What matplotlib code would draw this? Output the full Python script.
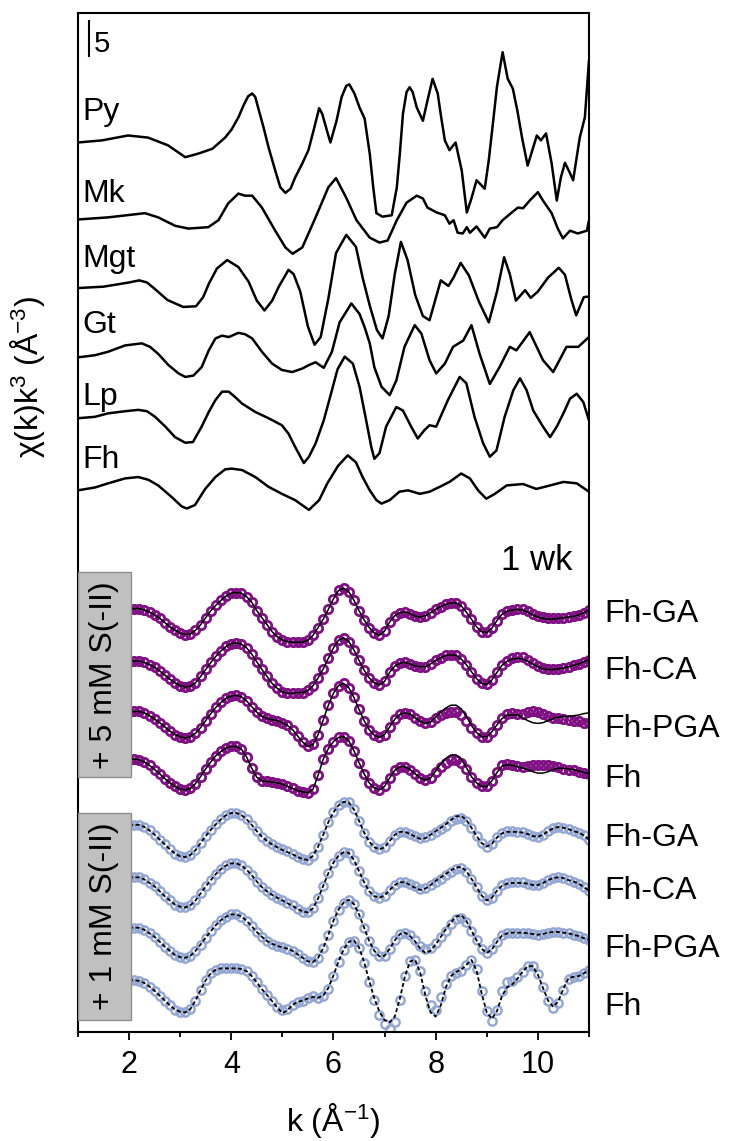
import numpy as np
import matplotlib.pyplot as plt
from matplotlib.patches import Rectangle

plt.rcParams['font.family'] = ['Liberation Sans', 'DejaVu Sans']
plt.rcParams['mathtext.fontset'] = 'custom'
plt.rcParams['mathtext.rm'] = 'Liberation Sans'
plt.rcParams['mathtext.it'] = 'Liberation Sans:italic'
plt.rcParams['mathtext.default'] = 'regular'

# ---- reference spectra, chi(k)k^3 ----
py_k = [1.0, 1.47, 1.98, 2.37, 2.76, 3.1, 3.35, 3.63, 3.88, 4.01, 4.14, 4.24, 4.33, 4.41, 4.47,
        4.54, 4.63, 4.73, 4.86, 4.96, 5.06, 5.16, 5.25, 5.39, 5.51, 5.61, 5.72, 5.78, 5.88,
        5.94, 6.06, 6.16, 6.25, 6.31, 6.41, 6.51, 6.61, 6.71, 6.78, 6.84, 6.96, 7.14, 7.24,
        7.30, 7.36, 7.43, 7.49, 7.55, 7.63, 7.75, 7.84, 7.94, 8.04, 8.11, 8.18, 8.27, 8.39,
        8.51, 8.61, 8.7, 8.8, 8.96, 9.04, 9.12, 9.2, 9.31, 9.41, 9.51, 9.6, 9.69, 9.8, 9.98,
        10.06, 10.16, 10.27, 10.37, 10.45, 10.53, 10.63, 10.69, 10.82, 10.92, 11.0]
py_y = [0, 0.3, 1.0, 0.7, -0.4, -2.1, -1.6, -0.9, 0.7, 1.9, 3.6, 5.3, 6.6, 7.0, 6.5,
        4.6, 2.2, -0.7, -4.0, -6.4, -7.2, -6.6, -5.0, -3.0, -1.1, 1.7, 4.9, 4.1, 1.5,
        0.0, 3.1, 6.5, 8.1, 8.3, 7.0, 5.0, 3.4, -1.6, -6.5, -10.1, -10.6, -10.4, -6.4,
        -1.5, 4.1, 7.2, 7.9, 7.2, 5.0, 3.1, 6.0, 9.1, 7.0, 3.5, 0.3, -1.1, 0.0,
        -4.0, -10.0, -8.0, -5.4, -6.6, -2.5, 2.7, 8.0, 12.9, 9.1, 7.7, 4.5, 0.7, -3.3, 1.0,
        0.3, 1.3, -3.0, -8.3, -5.0, -2.9, -4.4, -5.4, 0.7, 3.6, 11.7]

mk_k = [1.0, 1.59, 2.31, 2.57, 2.9, 3.16, 3.55, 3.75, 3.94, 4.14, 4.27, 4.41, 4.6, 4.86, 5.06,
        5.2, 5.39, 5.65, 5.9, 6.05, 6.25, 6.45, 6.71, 6.9, 7.06, 7.24, 7.43, 7.63, 7.75, 7.84,
        8.02, 8.18, 8.27, 8.35, 8.43, 8.53, 8.61, 8.67, 8.8, 8.96, 9.06, 9.2, 9.31, 9.49,
        9.61, 9.71, 9.84, 10.0, 10.1, 10.27, 10.39, 10.49, 10.63, 10.78, 10.96, 11.0]
mk_y = [0, 0.3, 0.9, 0.3, -0.9, -1.3, -1.1, -0.1, 2.3, 3.7, 3.4, 3.4, 1.7, -1.6, -4.0,
        -4.9, -4.0, 0.3, 4.6, 5.9, 3.1, -0.1, -2.6, -3.3, -3.0, -0.1, 2.4, 3.4, 3.0, 1.7,
        1.0, 0.6, -0.6, -0.1, -1.9, -2.0, -1.1, -1.9, -1.0, -2.6, -1.3, -1.1, -0.1, 1.0,
        1.7, 1.6, 2.7, 3.9, 2.7, 0.9, -1.3, -2.7, -1.6, -2.0, -1.6, -0.1]

mgt_k = [1.0, 1.5, 2.0, 2.2, 2.35, 2.5, 2.75, 3.06, 3.31, 3.45, 3.56, 3.72, 3.92, 4.14, 4.34,
         4.5, 4.65, 4.8, 4.93, 5.12, 5.22, 5.35, 5.5, 5.63, 5.75, 5.9, 6.05, 6.25, 6.44, 6.57,
         6.71, 6.85, 6.96, 7.08, 7.2, 7.32, 7.45, 7.6, 7.75, 7.88, 8.0, 8.1, 8.25, 8.35, 8.49,
         8.65, 8.85, 9.04, 9.2, 9.34, 9.45, 9.57, 9.75, 9.86, 10.0, 10.2, 10.41, 10.53, 10.65,
         10.75, 10.9, 11.0]
mgt_y = [0, 0.2, 0.8, 1.1, 0.8, -0.1, -1.7, -2.7, -2.6, -1.3, 0.6, 2.8, 4.0, 3.0, 0.9,
         -1.8, -3.2, -1.8, 0.2, 2.6, 2.0, -0.5, -5.5, -8.1, -7.0, -1.5, 5.0, 7.6, 5.9, 1.5,
         -2.5, -6.0, -7.2, -4.0, 2.0, 6.6, 4.0, -1.0, -4.0, -4.6, -1.5, 1.1, 0.3, 1.5, 3.6,
         1.8, -2.0, -4.9, -0.5, 4.4, 2.0, -1.8, -0.3, -1.4, -0.5, 1.5, 2.9, 1.9, -1.5,
         -3.9, -1.3, -1.2]

gt_k = [1.0, 1.33, 1.59, 1.92, 2.25, 2.41, 2.57, 2.77, 2.97, 3.1, 3.26, 3.42, 3.56, 3.69, 3.82,
        3.95, 4.14, 4.27, 4.41, 4.6, 4.8, 4.99, 5.19, 5.39, 5.52, 5.65, 5.81, 5.97, 6.12, 6.35,
        6.51, 6.61, 6.71, 6.8, 6.94, 7.1, 7.23, 7.39, 7.59, 7.72, 7.88, 8.01, 8.18, 8.34, 8.54,
        8.7, 8.86, 9.06, 9.25, 9.45, 9.58, 9.84, 10.1, 10.3, 10.56, 10.79, 11.0]
gt_y = [0, 0.3, 0.8, 1.7, 2.0, 1.5, 0.5, -1.1, -2.3, -2.8, -2.6, -1.4, 1.0, 2.7, 3.1,
        2.9, 3.5, 3.3, 2.7, 0.8, -0.9, -1.8, -2.1, -1.6, -1.1, -0.7, -1.5, 0.8, 5.0, 7.7,
        6.2, 4.3, 2.0, -1.4, -4.2, -5.4, -3.3, 1.5, 4.6, 3.4, -0.4, -2.3, -0.9, 1.5, 2.4,
        4.6, 0.5, -3.8, -1.4, 1.5, 1.0, 3.6, -0.4, -2.1, 1.5, 1.5, 2.9]

lp_k = [1.0, 1.33, 1.59, 1.92, 2.18, 2.35, 2.51, 2.71, 2.9, 3.1, 3.25, 3.42, 3.56, 3.69, 3.82,
        3.95, 4.08, 4.21, 4.47, 4.73, 4.99, 5.12, 5.25, 5.42, 5.52, 5.65, 5.81, 5.97, 6.08,
        6.22, 6.38, 6.51, 6.64, 6.74, 6.8, 6.9, 7.03, 7.23, 7.36, 7.52, 7.65, 7.78, 7.88,
        8.01, 8.24, 8.47, 8.6, 8.76, 8.93, 9.06, 9.19, 9.35, 9.52, 9.65, 9.78, 9.91, 10.1,
        10.24, 10.37, 10.5, 10.63, 10.76, 10.89, 11.0]
lp_y = [0, 0.2, 0.7, 1.0, 1.2, 1.0, 0.2, -1.2, -2.7, -3.5, -3.4, -1.2, 0.9, 2.6, 3.8,
        3.8, 3.0, 2.1, 0.9, 0.0, -1.0, -2.2, -4.1, -6.4, -5.5, -3.6, -0.3, 4.0, 7.0,
        8.8, 7.8, 4.5, -0.3, -4.1, -5.8, -5.0, -1.2, 1.6, 1.1, -1.2, -2.9, -1.7, -1.0,
        -1.2, 2.6, 5.9, 5.0, 0.2, -3.6, -5.5, -4.6, 0.2, 4.0, 5.7, 4.0, 1.1, -1.2,
        -2.7, -1.2, 0.7, 2.8, 3.5, 2.3, -0.3]

fh_k = [1.0, 1.33, 1.59, 1.92, 2.18, 2.38, 2.57, 2.84, 3.03, 3.13, 3.29, 3.49, 3.69, 3.88, 4.01,
        4.21, 4.47, 4.73, 4.99, 5.25, 5.52, 5.72, 5.88, 6.09, 6.28, 6.44, 6.57, 6.71, 6.84,
        6.94, 7.1, 7.29, 7.46, 7.69, 7.88, 8.08, 8.27, 8.5, 8.67, 8.83, 8.99, 9.16, 9.39,
        9.71, 9.97, 10.24, 10.5, 10.76, 11.0]
fh_y = [0, 0.4, 1.0, 1.7, 1.9, 1.5, 0.7, -1.0, -2.3, -2.6, -2.1, 0.2, 1.9, 3.0, 3.1,
        2.9, 1.9, 0.5, -0.5, -1.4, -2.8, -1.4, 1.0, 3.5, 5.0, 4.0, 1.9, 0.0, -1.4,
        -1.9, -1.4, -0.2, 0.0, -0.5, -0.2, 0.5, 1.2, 2.4, 1.7, 0.0, -1.2, -0.5, 0.7,
        0.9, 0.2, 0.7, 1.2, 1.0, -0.2]

ref_names = ['Py', 'Mk', 'Mgt', 'Gt', 'Lp', 'Fh']
ref_offsets = [127.1, 116.1, 106.3, 96.4, 87.7, 77.4]
ref_label_y = [130.3, 118.6, 109.3, 99.9, 89.6, 80.6]

# ---- 1 wk samples: data (circles) and fits (lines), k = 2.0 ... 11.0 step 0.1 ----
k_s = np.round(np.arange(2.0, 11.05, 0.1), 1)

s5_ga = [0.0, 0.1, 0.1, -0.1, -0.4, -0.8, -1.3, -1.9, -2.5, -3.0,
         -3.4, -3.6, -3.5, -3.0, -2.2, -1.2, -0.2, 0.6, 1.3, 1.9,
         2.3, 2.4, 2.3, 1.8, 1.0, -0.2, -1.2, -2.2, -3.2, -3.9,
         -4.4, -4.6, -4.7, -4.7, -4.7, -4.4, -3.7, -2.6, -1.4, 0.0,
         1.5, 2.7, 3.0, 2.5, 1.3, -0.2, -1.5, -2.6, -3.4, -3.7,
         -3.1, -1.8, -0.9, -0.5, -0.4, -0.6, -1.0, -1.1, -0.9, -0.5,
         0.0, 0.4, 0.7, 0.9, 0.9, 0.5, -0.4, -1.4, -2.5, -3.2,
         -3.3, -2.7, -1.6, -0.7, -0.3, -0.1, 0.1, 0.1, -0.2, -0.6,
         -0.9, -1.1, -1.3, -1.3, -1.3, -1.2, -1.1, -1.0, -0.8, -0.5,
         -0.1]
s5_ga_fit = [0.0, 0.1, 0.1, -0.1, -0.4, -0.8, -1.3, -1.9, -2.5, -3.0,
             -3.4, -3.6, -3.5, -3.0, -2.2, -1.2, -0.2, 0.6, 1.3, 1.9,
             2.3, 2.4, 2.3, 1.8, 1.0, -0.2, -1.2, -2.2, -3.2, -3.9,
             -4.4, -4.6, -4.7, -4.7, -4.7, -4.4, -3.7, -2.6, -1.4, 0.0,
             1.5, 2.7, 3.0, 2.5, 1.3, -0.2, -1.5, -2.6, -3.4, -3.7,
             -3.1, -1.8, -0.9, -0.5, -0.4, -0.6, -1.0, -1.1, -0.9, -0.5,
             0.0, 0.4, 0.7, 0.9, 0.9, 0.5, -0.4, -1.4, -2.5, -3.2,
             -3.3, -2.7, -1.6, -0.7, -0.3, -0.1, 0.0, -0.1, -0.4, -0.8,
             -1.1, -1.3, -1.4, -1.4, -1.3, -1.2, -1.1, -1.0, -0.8, -0.5,
             -0.1]
s5_ca = [0.0, 0.1, 0.1, -0.1, -0.4, -0.8, -1.3, -1.9, -2.5, -3.0,
         -3.4, -3.6, -3.5, -3.0, -2.1, -1.1, -0.1, 0.8, 1.6, 2.2,
         2.6, 2.7, 2.5, 2.0, 1.1, 0.0, -1.1, -2.1, -3.1, -3.8,
         -4.3, -4.5, -4.5, -4.4, -4.4, -4.1, -3.4, -2.3, -1.0, 0.5,
         2.0, 3.1, 3.4, 2.9, 1.7, 0.2, -1.2, -2.3, -3.0, -3.3,
         -2.8, -1.5, -0.6, -0.2, -0.1, -0.3, -0.6, -0.7, -0.7, -0.3,
         0.2, 0.6, 0.9, 1.0, 0.9, 0.4, -0.4, -1.4, -2.4, -3.1,
         -3.2, -2.6, -1.5, -0.5, 0.1, 0.5, 0.7, 0.7, 0.3, -0.2,
         -0.6, -0.9, -1.1, -1.1, -1.0, -0.9, -0.7, -0.5, -0.3, 0.0,
         0.3]
s5_ca_fit = [0.0, 0.1, 0.1, -0.1, -0.4, -0.8, -1.3, -1.9, -2.5, -3.0,
             -3.4, -3.6, -3.5, -3.0, -2.1, -1.1, -0.1, 0.8, 1.6, 2.2,
             2.6, 2.7, 2.5, 2.0, 1.1, 0.0, -1.1, -2.1, -3.1, -3.8,
             -4.3, -4.5, -4.5, -4.4, -4.4, -4.1, -3.4, -2.3, -1.0, 0.5,
             2.0, 3.1, 3.4, 2.9, 1.7, 0.2, -1.2, -2.3, -3.0, -3.3,
             -2.8, -1.5, -0.6, -0.2, -0.1, -0.3, -0.6, -0.7, -0.7, -0.3,
             0.2, 0.6, 0.9, 1.0, 0.9, 0.4, -0.4, -1.4, -2.4, -3.1,
             -3.2, -2.6, -1.5, -0.5, 0.1, 0.4, 0.5, 0.4, 0.1, -0.3,
             -0.7, -1.0, -1.1, -1.1, -1.0, -0.9, -0.7, -0.5, -0.3, 0.0,
             0.3]
s5_pga = [0.0, 0.1, 0.1, -0.1, -0.5, -1.0, -1.5, -2.1, -2.7, -3.2,
          -3.5, -3.7, -3.5, -3.0, -2.2, -1.2, -0.2, 0.7, 1.4, 2.0,
          2.3, 2.4, 2.2, 1.6, 0.8, 0.0, -0.6, -0.9, -1.1, -1.2,
          -1.5, -1.9, -2.5, -3.4, -4.3, -4.9, -4.6, -3.2, -1.1, 1.0,
          2.7, 3.8, 4.1, 3.5, 2.1, 0.4, -1.2, -2.5, -3.3, -3.6,
          -3.2, -2.1, -1.0, -0.3, -0.1, -0.3, -0.8, -1.3, -1.6, -1.4,
          -0.9, -0.4, -0.1, 0.0, 0.0, -0.4, -1.2, -2.2, -3.0, -3.5,
          -3.5, -2.8, -1.8, -0.9, -0.3, -0.1, -0.2, -0.2, 0.0, 0.1,
          0.0, -0.2, -0.5, -0.8, -0.9, -1.0, -1.1, -1.2, -1.3, -1.5,
          -1.6]
s5_pga_fit = [0.0, 0.1, 0.1, -0.1, -0.5, -1.0, -1.5, -2.1, -2.7, -3.2,
              -3.5, -3.7, -3.5, -3.0, -2.2, -1.2, -0.2, 0.7, 1.4, 2.0,
              2.3, 2.4, 2.2, 1.6, 0.8, 0.0, -0.6, -0.9, -1.1, -1.2,
              -1.5, -1.9, -2.5, -3.4, -4.3, -4.9, -4.6, -3.2, -1.1, 1.0,
              2.7, 3.8, 4.1, 3.5, 2.1, 0.4, -1.2, -2.5, -3.3, -3.6,
              -3.2, -2.1, -1.0, -0.3, -0.1, -0.3, -0.8, -1.3, -1.6, -1.4,
              -0.7, 0.0, 0.6, 1.0, 1.0, 0.5, -0.6, -1.9, -2.9, -3.5,
              -3.5, -2.8, -1.8, -0.9, -0.4, -0.4, -0.4, -0.8, -1.2, -1.5,
              -1.6, -1.5, -1.2, -0.9, -0.7, -0.6, -0.6, -0.5, -0.4, -0.2,
              -0.1]
s5_fh = [0.0, 0.1, 0.0, -0.3, -0.8, -1.4, -2.0, -2.7, -3.3, -3.8,
         -4.2, -4.3, -4.1, -3.4, -2.4, -1.3, -0.3, 0.6, 1.2, 1.7,
         1.9, 1.9, 1.5, 0.4, -1.2, -2.5, -3.0, -3.1, -3.2, -3.3,
         -3.5, -3.8, -4.1, -4.4, -4.6, -4.7, -4.2, -2.2, 0.1, 1.6,
         2.6, 3.2, 3.3, 2.7, 1.3, -0.4, -2.0, -3.3, -4.0, -4.3,
         -3.8, -2.6, -1.5, -1.0, -1.0, -1.4, -2.0, -2.6, -2.9, -2.6,
         -1.8, -1.0, -0.4, -0.1, 0.0, -0.4, -1.3, -2.4, -3.3, -3.8,
         -3.8, -3.0, -1.8, -0.8, -0.6, -0.7, -0.9, -1.0, -0.9, -0.8,
         -0.7, -0.7, -0.7, -0.9, -1.1, -1.3, -1.4, -1.5, -1.7, -1.9,
         -2.1]
s5_fh_fit = [0.0, 0.1, 0.0, -0.3, -0.8, -1.4, -2.0, -2.7, -3.3, -3.8,
             -4.2, -4.3, -4.1, -3.4, -2.4, -1.3, -0.3, 0.6, 1.2, 1.7,
             1.9, 1.9, 1.5, 0.4, -1.2, -2.5, -3.0, -3.1, -3.2, -3.3,
             -3.5, -3.8, -4.1, -4.4, -4.6, -4.7, -4.2, -2.2, 0.1, 1.6,
             2.6, 3.2, 3.3, 2.7, 1.3, -0.4, -2.0, -3.3, -4.0, -4.3,
             -3.8, -2.6, -1.5, -1.0, -1.0, -1.4, -2.0, -2.6, -2.9, -2.6,
             -1.6, -0.6, 0.2, 0.7, 0.7, 0.1, -1.1, -2.4, -3.3, -3.8,
             -3.8, -3.0, -1.8, -0.9, -0.7, -0.8, -1.0, -1.2, -1.4, -1.7,
             -1.9, -1.9, -1.7, -1.4, -1.2, -1.2, -1.3, -1.4, -1.6, -1.8,
             -2.0]

s1_ga = [0.0, 0.0, 0.0, -0.3, -0.8, -1.4, -2.1, -2.8, -3.5, -4.1,
         -4.5, -4.6, -4.3, -3.6, -2.6, -1.6, -0.7, 0.1, 0.8, 1.4,
         1.7, 1.7, 1.4, 0.8, 0.0, -0.9, -1.7, -2.3, -2.8, -3.1,
         -3.4, -3.7, -4.1, -4.6, -4.9, -5.0, -4.4, -3.1, -1.4, 0.4,
         1.8, 2.8, 3.3, 3.2, 2.2, 0.6, -1.1, -2.4, -3.2, -3.5,
         -3.2, -2.3, -1.4, -1.0, -1.0, -1.3, -1.6, -1.9, -1.8, -1.4,
         -1.0, -0.6, -0.1, 0.5, 0.9, 1.0, 0.5, -0.5, -1.6, -2.6,
         -3.1, -2.7, -1.8, -1.1, -0.9, -0.9, -1.0, -1.0, -1.3, -1.6,
         -1.7, -1.4, -0.9, -0.5, -0.3, -0.4, -0.6, -0.9, -1.1, -1.5,
         -2.1]
s1_ga_fit = [0.0, 0.0, 0.0, -0.3, -0.8, -1.4, -2.1, -2.8, -3.5, -4.1,
             -4.5, -4.6, -4.3, -3.6, -2.6, -1.6, -0.7, 0.1, 0.8, 1.4,
             1.7, 1.7, 1.4, 0.8, 0.0, -0.9, -1.7, -2.3, -2.8, -3.2,
             -3.6, -3.9, -4.2, -4.6, -4.9, -5.0, -4.4, -3.1, -1.4, 0.4,
             1.8, 2.8, 3.3, 3.2, 2.2, 0.6, -1.1, -2.4, -3.2, -3.5,
             -3.2, -2.3, -1.4, -1.0, -1.0, -1.3, -1.7, -2.0, -1.9, -1.4,
             -0.9, -0.4, 0.1, 0.7, 1.2, 1.3, 0.7, -0.4, -1.6, -2.6,
             -3.1, -2.7, -1.8, -1.2, -1.0, -1.0, -1.0, -1.1, -1.3, -1.6,
             -1.7, -1.4, -0.9, -0.5, -0.3, -0.4, -0.6, -0.9, -1.1, -1.5,
             -2.1]
s1_ca = [0.0, 0.0, 0.0, -0.3, -0.8, -1.3, -2.0, -2.7, -3.3, -3.9,
         -4.2, -4.3, -4.0, -3.3, -2.3, -1.3, -0.4, 0.5, 1.2, 1.7,
         2.0, 2.0, 1.7, 1.1, 0.3, -0.6, -1.4, -2.0, -2.5, -2.9,
         -3.2, -3.6, -4.0, -4.5, -4.9, -5.0, -4.4, -3.0, -1.2, 0.6,
         2.1, 3.1, 3.6, 3.5, 2.5, 0.9, -0.7, -2.0, -2.7, -2.9,
         -2.6, -1.8, -1.1, -0.7, -0.7, -1.0, -1.3, -1.6, -1.5, -1.1,
         -0.6, -0.2, 0.3, 0.8, 1.2, 1.3, 0.8, -0.2, -1.4, -2.6,
         -3.3, -2.9, -1.9, -1.1, -0.8, -0.7, -0.7, -0.7, -0.9, -1.1,
         -1.1, -0.8, -0.4, -0.1, 0.0, -0.1, -0.4, -0.6, -0.9, -1.4,
         -1.9]
s1_ca_fit = [0.0, 0.0, 0.0, -0.3, -0.8, -1.3, -2.0, -2.7, -3.3, -3.9,
             -4.2, -4.3, -4.0, -3.3, -2.3, -1.3, -0.4, 0.5, 1.2, 1.7,
             2.0, 2.0, 1.7, 1.1, 0.3, -0.6, -1.4, -2.0, -2.5, -2.9,
             -3.3, -3.7, -4.1, -4.5, -4.9, -5.0, -4.4, -3.0, -1.2, 0.6,
             2.1, 3.1, 3.6, 3.5, 2.5, 0.9, -0.7, -2.0, -2.7, -2.9,
             -2.6, -1.8, -1.1, -0.7, -0.7, -1.1, -1.5, -1.8, -1.6, -1.1,
             -0.5, 0.0, 0.5, 1.0, 1.4, 1.5, 0.9, -0.2, -1.4, -2.6,
             -3.3, -2.9, -1.9, -1.2, -0.9, -0.8, -0.8, -0.8, -0.9, -1.1,
             -1.1, -0.8, -0.4, -0.1, 0.0, -0.1, -0.4, -0.6, -0.9, -1.4,
             -1.9]
s1_pga = [0.0, 0.0, 0.0, -0.3, -0.8, -1.3, -2.0, -2.7, -3.3, -3.9,
          -4.2, -4.3, -4.0, -3.3, -2.4, -1.4, -0.5, 0.4, 1.1, 1.6,
          1.9, 1.9, 1.6, 1.0, 0.2, -0.6, -1.3, -1.9, -2.3, -2.6,
          -2.8, -3.0, -3.3, -3.8, -4.3, -4.8, -4.9, -4.3, -2.9, -1.0,
          1.0, 2.6, 3.6, 4.0, 3.4, 1.9, 0.0, -1.9, -3.3, -4.1,
          -4.0, -3.0, -1.8, -0.9, -0.7, -1.1, -1.8, -2.6, -3.1, -2.9,
          -2.2, -1.3, -0.4, 0.5, 1.2, 1.4, 0.8, -0.4, -1.8, -3.0,
          -3.6, -3.1, -2.0, -1.1, -0.8, -0.7, -0.7, -0.7, -0.8, -0.9,
          -1.0, -0.9, -0.7, -0.6, -0.6, -0.7, -0.8, -1.0, -1.2, -1.5,
          -1.7]
s1_pga_fit = [0.0, 0.0, 0.0, -0.3, -0.8, -1.3, -2.0, -2.7, -3.3, -3.9,
              -4.2, -4.3, -4.0, -3.3, -2.4, -1.4, -0.5, 0.4, 1.1, 1.6,
              1.9, 1.9, 1.6, 1.0, 0.2, -0.6, -1.3, -1.9, -2.3, -2.6,
              -2.8, -3.0, -3.3, -3.8, -4.3, -4.8, -4.9, -4.3, -2.9, -1.0,
              1.0, 2.6, 3.6, 4.0, 3.4, 1.9, 0.0, -1.9, -3.3, -4.1,
              -4.0, -3.0, -1.8, -0.9, -0.7, -1.2, -2.0, -3.0, -3.6, -3.3,
              -2.4, -1.3, -0.2, 0.8, 1.6, 1.8, 1.0, -0.4, -1.8, -3.0,
              -3.6, -3.1, -2.0, -1.1, -0.8, -0.7, -0.7, -0.7, -0.8, -0.9,
              -1.0, -0.9, -0.7, -0.6, -0.6, -0.7, -0.8, -1.0, -1.2, -1.5,
              -1.7]
s1_fh = [0.0, 0.0, -0.1, -0.4, -0.9, -1.5, -2.2, -2.9, -3.6, -4.2,
         -4.5, -4.6, -4.1, -2.9, -1.4, 0.0, 1.0, 1.5, 1.7, 1.7,
         1.7, 1.7, 1.6, 1.3, 0.6, -0.3, -1.3, -2.1, -3.0, -3.8,
         -4.3, -4.1, -3.5, -3.1, -2.9, -2.5, -2.2, -2.5, -2.3, -1.2,
         0.6, 2.6, 4.3, 5.4, 5.6, 4.6, 2.5, -0.2, -2.8, -4.9,
         -6.3, -7.0, -6.0, -2.8, 0.6, 2.7, 2.9, 1.3, -1.6, -3.6,
         -4.3, -2.4, -0.6, 0.6, 1.0, 1.3, 2.2, 2.9, 1.6, -1.6,
         -4.4, -5.8, -4.2, -1.6, -0.3, -0.1, 0.4, 1.2, 2.0, 2.0,
         0.9, -1.0, -2.9, -3.9, -3.2, -1.4, 0.2, 0.5, 0.6, 1.0,
         1.4]
s1_fh_fit = [0.0, 0.0, -0.1, -0.4, -0.9, -1.5, -2.2, -2.9, -3.6, -4.2,
             -4.5, -4.6, -4.1, -2.9, -1.4, 0.0, 1.0, 1.5, 1.7, 1.7,
             1.7, 1.7, 1.6, 1.3, 0.6, -0.3, -1.3, -2.1, -3.0, -3.9,
             -4.7, -4.3, -3.5, -3.1, -2.9, -2.6, -2.4, -2.5, -2.2, -1.1,
             0.7, 2.7, 4.4, 5.5, 5.7, 4.7, 2.6, -0.1, -2.6, -4.5,
             -5.7, -6.0, -5.2, -2.6, 0.6, 2.7, 2.9, 1.0, -2.2, -4.6,
             -5.2, -3.6, -1.0, 0.6, 1.2, 1.5, 2.2, 2.9, 1.4, -1.9,
             -4.6, -5.5, -4.4, -2.2, -1.0, -0.6, 0.2, 1.2, 2.0, 2.0,
             0.8, -1.1, -2.9, -3.8, -3.0, -1.2, 0.3, 0.5, 0.6, 1.0,
             1.4]

sample_names = ['Fh-GA', 'Fh-CA', 'Fh-PGA', 'Fh']
s5_offsets = [60.4, 52.9, 45.7, 38.9]
s1_offsets = [29.6, 22.1, 14.9, 7.4]
s5_label_y = [58.6, 50.4, 42.1, 35.0]
s1_label_y = [26.6, 19.0, 10.7, 2.4]

purple = '#7f1182'
lightblue = '#93a6d3'
fs = 23

fig = plt.figure(figsize=(7.3, 11.41), dpi=100)
ax = fig.add_axes([0.1068, 0.0955, 0.7000, 0.8931])

refs = [(py_k, py_y), (mk_k, mk_y), (mgt_k, mgt_y), (gt_k, gt_y), (lp_k, lp_y), (fh_k, fh_y)]
for (kk, yy), off, name, ly in zip(refs, ref_offsets, ref_names, ref_label_y):
    ax.plot(kk, np.array(yy) + off, color='black', lw=1.8,
            solid_joinstyle='round', solid_capstyle='round')
    ax.text(1.09, ly, name, fontsize=fs, ha='left', va='baseline')

s5_data = [s5_ga, s5_ca, s5_pga, s5_fh]
s5_fits = [s5_ga_fit, s5_ca_fit, s5_pga_fit, s5_fh_fit]
for d, f, off, name, ly in zip(s5_data, s5_fits, s5_offsets, sample_names, s5_label_y):
    ax.plot(k_s, np.array(d) + off, 'o', ms=6.0, mfc='none', mec=purple, mew=2.0)
    ax.plot(k_s, np.array(f) + off, '-', color='black', lw=1.1)
    ax.text(11.30, ly, name, fontsize=fs, ha='left', va='baseline', clip_on=False)

s1_data = [s1_ga, s1_ca, s1_pga, s1_fh]
s1_fits = [s1_ga_fit, s1_ca_fit, s1_pga_fit, s1_fh_fit]
for d, f, off, name, ly in zip(s1_data, s1_fits, s1_offsets, sample_names, s1_label_y):
    ax.plot(k_s, np.array(d) + off, 'o', ms=6.0, mfc='none', mec=lightblue, mew=1.7)
    ax.plot(k_s, np.array(f) + off, color='black', lw=1.3, dashes=(2.2, 1.4))
    ax.text(11.30, ly, name, fontsize=fs, ha='left', va='baseline', clip_on=False)

# grey tags for the two sulfide doses
ax.add_patch(Rectangle((1.0, 36.4), 1.03, 29.3, facecolor='#c0c0c0', edgecolor='#8f8f8f', lw=1.0, zorder=3))
ax.text(1.515, 51.05, '+ 5 mM S(-II)', rotation=90, fontsize=fs, ha='center', va='center', zorder=4)
ax.add_patch(Rectangle((1.0, 1.7), 1.03, 29.6, facecolor='#c0c0c0', edgecolor='#8f8f8f', lw=1.0, zorder=3))
ax.text(1.515, 16.5, '+ 1 mM S(-II)', rotation=90, fontsize=fs, ha='center', va='center', zorder=4)

ax.text(10.67, 66.0, '1 wk', fontsize=25, ha='right', va='baseline')

# scale bar
ax.plot([1.21, 1.21], [139.4, 144.4], color='black', lw=1.5)
ax.text(1.30, 140.0, '5', fontsize=21, ha='left', va='baseline')

ax.set_xlim(1, 11)
ax.set_ylim(0, 145.6)
ax.set_yticks([])
ax.set_xticks([2, 4, 6, 8, 10])
ax.set_xticks([1, 3, 5, 7, 9, 11], minor=True)
ax.tick_params(axis='x', which='major', direction='out', length=6, width=1.3, labelsize=22, pad=7)
ax.tick_params(axis='x', which='minor', direction='out', length=3.5, width=1.3)
for sp in ax.spines.values():
    sp.set_linewidth(1.5)

ax.set_xlabel('k (Å$^{-1}$)', fontsize=fs)
ax.xaxis.set_label_coords(0.5, -0.068)
fig.text(0.038, 0.67, 'χ(k)k$^{3}$ (Å$^{-3}$)', rotation=90, fontsize=fs, ha='center', va='center')

fig.savefig('out.png', dpi=100)
